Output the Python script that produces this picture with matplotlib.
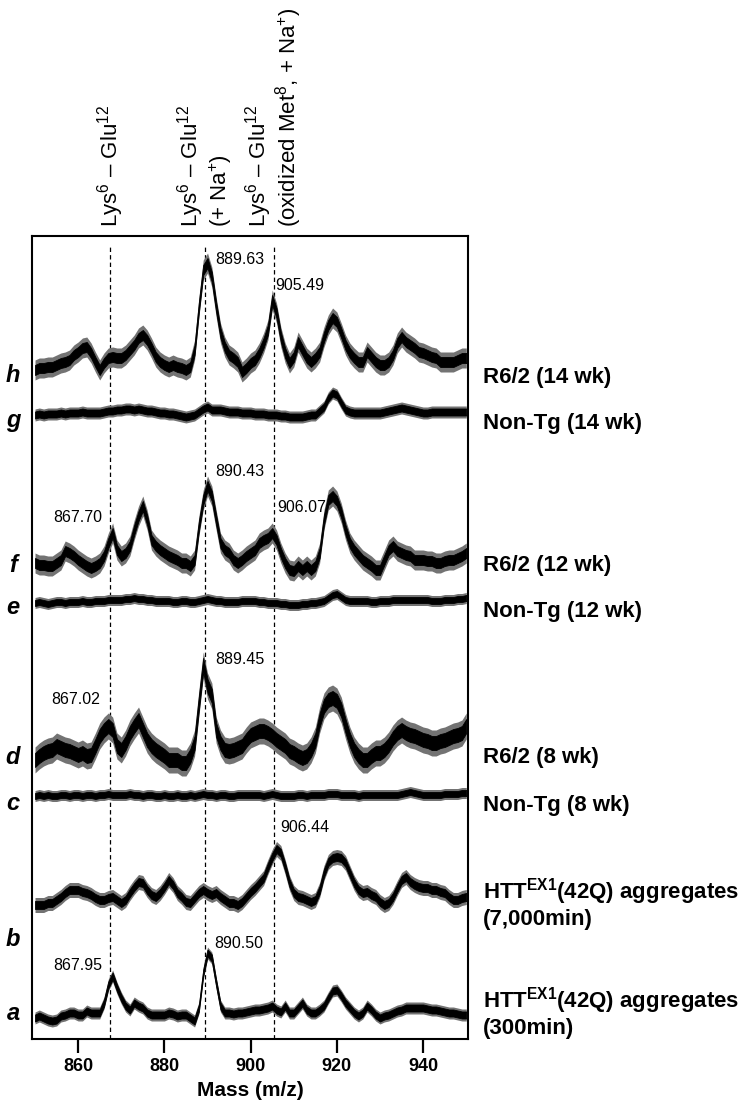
import numpy as np
import matplotlib
matplotlib.use("Agg")
import matplotlib.pyplot as plt

plt.rcParams['font.family'] = ['Liberation Sans', 'DejaVu Sans']
plt.rcParams['mathtext.fontset'] = 'custom'
plt.rcParams['mathtext.rm'] = 'Liberation Sans'
plt.rcParams['mathtext.it'] = 'Liberation Sans:italic'
plt.rcParams['mathtext.bf'] = 'Liberation Sans:bold'

# ---------------- data ----------------
MZ = np.arange(850, 951)  # m/z sampling, 1 unit steps

# intensity above each trace's baseline (arbitrary units)
h_vals = [0, 2, 2, 3, 3, 5, 7, 8, 10, 15,
          18, 22, 23, 17, 8, 0, 7, 12, 13, 12,
          12, 15, 20, 25, 32, 35, 30, 22, 13, 8,
          5, 3, 5, 3, 2, 0, 3, 20, 63, 100,
          107, 93, 63, 37, 23, 15, 12, 8, -2, 2,
          7, 10, 17, 27, 40, 70, 57, 33, 17, 7,
          13, 28, 20, 12, 8, 12, 18, 33, 45, 52,
          48, 37, 25, 17, 12, 8, 8, 18, 13, 8,
          5, 5, 8, 15, 27, 33, 28, 25, 22, 18,
          17, 15, 13, 12, 8, 8, 8, 8, 10, 12, 12]
g_vals = [0, 1, 0, 1, 1, 1, 2, 1, 2, 2,
          2, 3, 2, 2, 2, 2, 3, 4, 4, 5,
          5, 6, 6, 5, 6, 5, 4, 4, 3, 2,
          2, 1, 1, 0, -1, -2, -1, 0, 3, 6,
          8, 5, 5, 5, 4, 3, 3, 3, 2, 2,
          2, 1, 1, 1, 0, 0, 0, -1, -1, -2,
          -2, -2, -2, -1, 0, 0, 4, 8, 17, 22,
          20, 12, 5, 3, 2, 2, 2, 2, 2, 2,
          2, 3, 4, 5, 6, 7, 6, 5, 4, 3,
          2, 2, 3, 3, 3, 3, 3, 3, 3, 3, 3]
f_vals = [0, -2, -2, -3, -3, 0, 3, 12, 10, 7,
          3, 0, -3, -5, -3, 0, 7, 20, 30, 13,
          7, 10, 17, 33, 47, 57, 43, 23, 17, 13,
          10, 7, 5, 3, 0, 0, -3, 3, 37, 63,
          77, 67, 43, 20, 13, 10, 3, 0, 3, 7,
          10, 13, 20, 23, 25, 30, 23, 10, 0, -7,
          -8, -3, -7, -3, -7, -3, 10, 43, 63, 67,
          62, 50, 33, 20, 13, 8, 3, 0, -3, -7,
          -7, 3, 13, 17, 12, 10, 8, 7, 3, 3,
          3, 2, 2, 0, 0, 2, 3, 3, 5, 7, 10]
e_vals = [0, 1, 0, -1, 0, 1, 1, 0, 1, 1,
          1, 2, 1, 1, 2, 2, 2, 3, 3, 3,
          3, 4, 4, 5, 4, 4, 3, 3, 2, 2,
          2, 2, 1, 1, 2, 2, 1, 1, 2, 3,
          4, 3, 2, 2, 1, 1, 1, 1, 2, 2,
          2, 2, 1, 1, 0, 0, 0, -1, -1, -2,
          -2, -2, -1, -1, 0, 0, 1, 2, 5, 8,
          9, 6, 3, 2, 2, 2, 2, 2, 1, 1,
          2, 2, 2, 3, 3, 3, 3, 3, 3, 3,
          3, 3, 2, 2, 2, 3, 3, 3, 4, 4, 5]
d_vals = [-7, -3, 0, 2, 3, 7, 5, 3, 2, 0,
          -2, 0, -3, -2, 7, 17, 23, 27, 23, 7,
          3, 10, 20, 27, 33, 23, 13, 7, 3, 0,
          -3, -7, -7, -7, -10, -10, -3, 10, 50, 88,
          67, 57, 23, 10, 3, 2, 3, 5, 7, 13,
          18, 20, 22, 22, 20, 17, 13, 10, 7, 2,
          0, -3, -5, -3, 3, 13, 33, 47, 53, 55,
          52, 43, 27, 13, 3, -3, -7, -7, -3, 0,
          0, 3, 8, 15, 20, 23, 20, 18, 17, 15,
          13, 12, 10, 10, 12, 13, 15, 17, 18, 20, 27]
c_vals = [0, 1, 0, 1, 0, 0, 1, 1, 0, 1,
          1, 0, 1, 1, 0, 1, 1, 2, 1, 1,
          1, 1, 2, 1, 1, 0, 1, 1, 0, 0,
          1, 0, 0, 1, 0, 0, 1, 0, 1, 2,
          1, 1, 0, 1, 1, 0, 0, 1, 1, 1,
          1, 1, 1, 0, 1, 2, 1, 0, 0, 0,
          0, 1, 1, 0, 1, 1, 1, 1, 2, 2,
          2, 1, 1, 1, 1, 0, 1, 1, 1, 1,
          1, 1, 1, 1, 1, 2, 3, 4, 3, 2,
          1, 1, 1, 1, 1, 2, 2, 2, 2, 3, 3]
b_vals = [0, 0, 0, 2, 2, 5, 8, 12, 15, 15,
          15, 13, 12, 10, 7, 5, 5, 7, 8, 5,
          2, 5, 12, 18, 23, 22, 15, 10, 8, 12,
          18, 25, 20, 12, 8, 3, 2, 7, 12, 15,
          12, 10, 12, 8, 5, 2, 2, 0, 3, 8,
          13, 17, 22, 27, 38, 48, 56, 52, 38, 22,
          12, 8, 7, 5, 3, 5, 15, 32, 43, 47,
          48, 47, 42, 32, 22, 15, 12, 13, 10, 8,
          3, 0, 2, 8, 17, 25, 28, 23, 20, 18,
          17, 17, 15, 15, 13, 12, 8, 5, 5, 7, 8]
a_vals = [0, 2, 0, -2, -3, -2, 2, 3, 5, 5,
          3, 3, 7, 5, 5, 5, 15, 33, 42, 30,
          20, 12, 8, 15, 12, 10, 5, 3, 3, 3,
          3, 5, 4, 2, 3, 3, 0, -3, 10, 45,
          65, 60, 35, 12, 5, 5, 4, 5, 5, 6,
          7, 8, 8, 9, 10, 12, 8, 6, 12, 5,
          5, 10, 15, 8, 5, 5, 8, 12, 20, 27,
          28, 22, 15, 10, 5, 2, 5, 12, 8, 3,
          0, 2, 3, 5, 7, 8, 10, 10, 10, 10,
          10, 9, 8, 8, 7, 6, 5, 5, 4, 3, 3]

letters = ['h', 'g', 'f', 'e', 'd', 'c', 'b', 'a']
series = [h_vals, g_vals, f_vals, e_vals, d_vals, c_vals, b_vals, a_vals]
noise_core = [5, 3.5, 5, 3, 7, 3, 4, 3.5]       # dense noise half-amplitude
noise_spike = [10, 6, 10, 5.5, 13, 5.5, 7.5, 6]  # occasional spike half-amplitude
sample_labels = ['R6/2 (14 wk)', 'Non-Tg (14 wk)', 'R6/2 (12 wk)', 'Non-Tg (12 wk)',
                 'R6/2 (8 wk)', 'Non-Tg (8 wk)',
                 'HTT$^{\\mathbf{EX1}}$(42Q) aggregates\n(7,000min)',
                 'HTT$^{\\mathbf{EX1}}$(42Q) aggregates\n(300min)']
marker_mz = [867.4, 889.5, 905.3]
marker_lines = [['Lys$^6$ – Glu$^{12}$'],
                ['Lys$^6$ – Glu$^{12}$', '(+ Na$^{+}$)'],
                ['Lys$^6$ – Glu$^{12}$', '(oxidized Met$^{8}$, + Na$^{+}$)']]
peak_labels = [  # (trace, text)
    ('h', '889.63'), ('h', '905.49'),
    ('f', '867.70'), ('f', '890.43'), ('f', '906.07'),
    ('d', '867.02'), ('d', '889.45'),
    ('b', '906.44'),
    ('a', '867.95'), ('a', '890.50')]
xticks = [860, 880, 900, 920, 940]

# ---------------- layout ----------------
W, H = 745, 1115
box_l, box_r, box_t, box_b = 32, 468, 236, 1039
XL = (849.3, 950.4)
baseline_px = [370, 415, 563, 603, 753, 796, 905, 1018]
right_label_px = [377, 423, 565, 612, 757, 805, 903, 1012]
letter_px = [375, 420, 565, 608, 757, 803, 940, 1013]
peak_label_pos = [(891.8, 259, 'left'), (905.7, 286, 'left'),
                  (865.6, 518, 'right'), (891.8, 472, 'left'), (906.2, 507, 'left'),
                  (865.2, 700, 'right'), (891.8, 660, 'left'),
                  (906.9, 828, 'left'),
                  (865.6, 965, 'right'), (891.6, 943, 'left')]

fig = plt.figure(figsize=(W / 100, H / 100), dpi=100)
ax = fig.add_axes([box_l / W, 1 - box_b / H, (box_r - box_l) / W, (box_b - box_t) / H])
ax.set_xlim(*XL)
ax.set_ylim(0, box_b - box_t)

for xm in marker_mz:
    ax.axvline(xm, ymin=0.0, ymax=0.99, color='black', lw=0.9, ls=(0, (3.5, 2.5)), zorder=1)

for vals, hc, hs, bpx in zip(series, noise_core, noise_spike, baseline_px):
    base = box_b - bpx
    v = np.asarray(vals, dtype=float)
    ax.fill_between(MZ, base + v - hs, base + v + hs, color='0.45', lw=0, zorder=2)
    ax.fill_between(MZ, base + v - hc, base + v + hc, color='black', lw=0.6, zorder=3)

for (tr, txt), (xm, ypx, ha) in zip(peak_labels, peak_label_pos):
    ax.text(xm, box_b - ypx, txt, ha=ha, va='center', fontsize=11.5, zorder=4)

for spine in ax.spines.values():
    spine.set_linewidth(1.5)
ax.set_yticks([])
ax.set_xticks(xticks)
ax.tick_params(axis='x', direction='out', length=10, width=1.6, pad=4, labelsize=13)
for lab in ax.get_xticklabels():
    lab.set_fontweight('bold')
ax.set_xlabel('Mass (m/z)', fontsize=15, fontweight='bold', labelpad=4)

for let, ypx in zip(letters, letter_px):
    fig.text(13 / W, 1 - ypx / H, let, fontsize=17, fontweight='bold', style='italic',
             ha='center', va='center')

for lab, ypx in zip(sample_labels, right_label_px):
    fig.text(483 / W, 1 - ypx / H, lab, fontsize=16, fontweight='bold',
             ha='left', va='center', linespacing=1.15)

for xm, lines in zip(marker_mz, marker_lines):
    xc = box_l + (xm - XL[0]) / (XL[1] - XL[0]) * (box_r - box_l)
    n = len(lines)
    for i, txt in enumerate(lines):
        off = (i - (n - 1) / 2) * 30
        fig.text((xc + off) / W, 1 - 227 / H, txt, rotation=90, fontsize=16,
                 ha='center', va='bottom')

fig.savefig('out.png', dpi=100)
